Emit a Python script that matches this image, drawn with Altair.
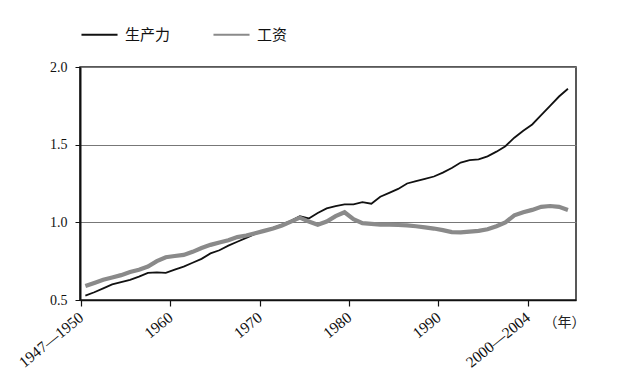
import altair as alt
import pandas as pd

years = list(range(1950, 2005))
productivity = [0.528, 0.55, 0.575, 0.60, 0.615, 0.63, 0.65, 0.675, 0.678, 0.675,
                0.695, 0.715, 0.74, 0.765, 0.80, 0.82, 0.85, 0.875, 0.90, 0.925,
                0.945, 0.965, 0.985, 1.01, 1.04, 1.025, 1.06, 1.09, 1.105, 1.115,
                1.115, 1.13, 1.12, 1.165, 1.19, 1.215, 1.25, 1.265, 1.28, 1.295,
                1.32, 1.35, 1.385, 1.40, 1.405, 1.425, 1.455, 1.49, 1.545, 1.59,
                1.63, 1.69, 1.75, 1.81, 1.86]
wages = [0.59, 0.61, 0.63, 0.645, 0.66, 0.68, 0.695, 0.715, 0.75, 0.775,
         0.783, 0.79, 0.81, 0.835, 0.855, 0.87, 0.885, 0.905, 0.915, 0.93,
         0.945, 0.96, 0.98, 1.005, 1.03, 1.005, 0.985, 1.005, 1.04, 1.065,
         1.02, 0.995, 0.99, 0.985, 0.985, 0.983, 0.98, 0.975, 0.968, 0.96,
         0.95, 0.937, 0.935, 0.94, 0.945, 0.955, 0.975, 1.00, 1.045, 1.065,
         1.08, 1.10, 1.105, 1.10, 1.08]
series_names = ["生产力", "工资"]
line_widths = [1.8, 4.2]
x_ticks = [1950, 1960, 1970, 1980, 1990, 2000]
y_ticks = [0.5, 1.0, 1.5, 2.0]

rows = []
for y, p, w in zip(years, productivity, wages):
    rows.append({"year": y, "series": series_names[0], "value": p, "sw": line_widths[0]})
    rows.append({"year": y, "series": series_names[1], "value": w, "sw": line_widths[1]})
df = pd.DataFrame(rows)

serif = "Liberation Serif"
cjk = "Noto Sans CJK SC"

x_scale = alt.Scale(domain=[1949.9, 2005.4], nice=False, zero=False)
y_scale = alt.Scale(domain=[0.5, 2.0], nice=False, zero=False)

chart = alt.Chart(df).transform_calculate(
    pos="datum.year + 0.5"
).mark_line().encode(
    x=alt.X("pos:Q", scale=x_scale,
            axis=alt.Axis(values=x_ticks, grid=False, format="d",
                          domainColor="#111", domainWidth=1.5,
                          tickColor="#111", tickSize=6, tickWidth=1.2,
                          labelAngle=-39, labelAlign="right", labelBaseline="middle",
                          labelFont=serif, labelFontSize=15.5, labelColor="#111", labelPadding=9,
                          labelBound=False, labelOverlap=False, labelLimit=300,
                          labelExpr="datum.value == 1950 ? '1947—1950' : (datum.value == 2000 ? '2000—2004' : datum.label)",
                          title="（年）", titleFont=cjk, titleFontSize=14, titleFontWeight="normal",
                          titleColor="#222", titleAngle=0, titleX=484, titleY=22,
                          titleAlign="center", titleBaseline="middle")),
    y=alt.Y("value:Q", scale=y_scale,
            axis=alt.Axis(values=y_ticks, format=".1f", grid=True, gridColor="#777", gridWidth=1,
                          domainColor="#111", domainWidth=2, tickColor="#111", tickSize=5,
                          labelFont=serif, labelFontSize=14, labelColor="#111", labelPadding=8,
                          title=None)),
    color=alt.Color("series:N", sort=series_names,
                    scale=alt.Scale(domain=series_names, range=["#111111", "#8a8a8a"]),
                    legend=alt.Legend(title=None, orient="none", legendX=0, legendY=-52,
                                      direction="horizontal", symbolType="stroke",
                                      symbolSize=1300, symbolStrokeWidth=2.2,
                                      labelFont=cjk, labelFontSize=15, labelColor="#111",
                                      labelOffset=6, columnPadding=38)),
    strokeWidth=alt.StrokeWidth("sw:Q", scale=None),
).properties(
    width=496, height=233,
    padding={"left": 72, "top": 59, "right": 30, "bottom": 70},
    autosize=alt.AutoSizeParams(type="none"),
    background="white",
).configure_view(stroke="#222", strokeWidth=1.5)

chart.save("out.html", embed_options={"renderer": "svg", "actions": False})
